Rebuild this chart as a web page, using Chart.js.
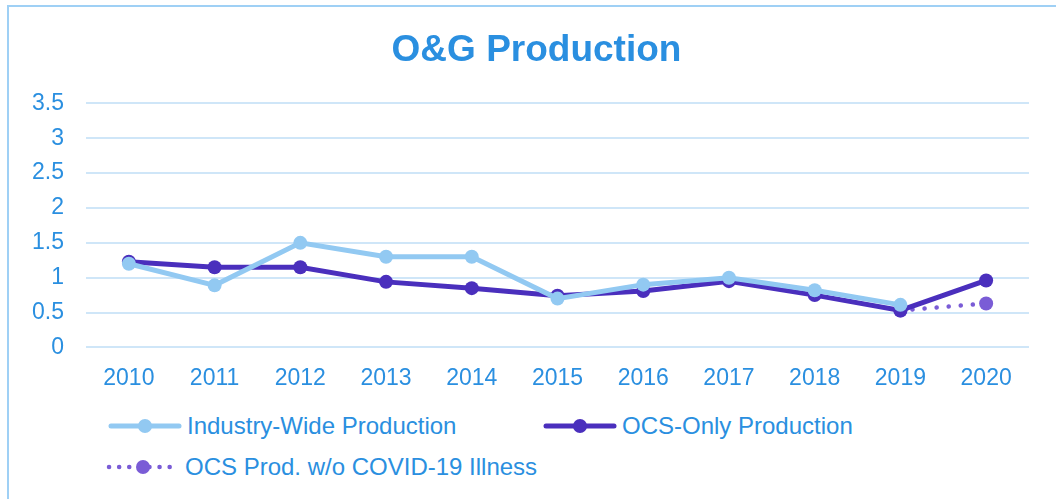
<!DOCTYPE html>
<html>
<head>
<meta charset="utf-8">
<script src="https://cdn.jsdelivr.net/npm/chart.js@4/dist/chart.umd.min.js"></script>
<style>
  html, body { margin: 0; padding: 0; background: #fff; overflow: hidden; }
  #frame {
    position: absolute; left: 7px; top: 5px; width: 1100px; height: 600px;
    border-left: 2px solid #9fd0f5; border-top: 2px solid #9fd0f5;
  }
  #wrap { position: absolute; left: 8px; top: 0; width: 1056px; height: 410px; }
  #legend { position: absolute; left: 0; top: 0; font-family: "Liberation Sans", Arial, sans-serif; font-size: 24px; color: #2a8fe0; }
  .item { position: absolute; display: flex; align-items: center; white-space: nowrap; }
  .item canvas { margin-right: 5px; }
</style>
</head>
<body>
<div id="frame"></div>
<div id="wrap"><canvas id="chart"></canvas></div>
<div id="legend"></div>
<script>
const years = ['2010', '2011', '2012', '2013', '2014', '2015', '2016', '2017', '2018', '2019', '2020'];
const industryWide = [1.2, 0.89, 1.5, 1.3, 1.3, 0.7, 0.9, 1.0, 0.82, 0.61, null];
const ocsOnly = [1.23, 1.15, 1.15, 0.94, 0.85, 0.74, 0.81, 0.95, 0.75, 0.53, 0.96];
const ocsNoCovid = [null, null, null, null, null, null, null, null, null, 0.53, 0.63];

const textBlue = '#2a8fe0';
const lightBlue = '#92c9f2';
const darkPurple = '#4a2fbd';
const midPurple = '#7a5cd6';
const fontFamily = '"Liberation Sans", Arial, sans-serif';

// the title sits centred on the whole frame, not on the plot
const shiftTitle = {
    id: 'shiftTitle',
    afterLayout: function (chart) {
        if (chart.titleBlock) {
            chart.titleBlock.left += 18;
            chart.titleBlock.right += 18;
        }
    }
};

const ctx = document.getElementById('chart').getContext('2d');
const chart = new Chart(ctx, {
    type: 'line',
    data: {
        labels: years,
        datasets: [{
            label: 'Industry-Wide Production',
            data: industryWide,
            borderColor: lightBlue,
            backgroundColor: lightBlue,
            borderWidth: 5,
            pointRadius: 7,
            pointBackgroundColor: lightBlue,
            pointBorderWidth: 0
        }, {
            label: 'OCS-Only Production',
            data: ocsOnly,
            borderColor: darkPurple,
            backgroundColor: darkPurple,
            borderWidth: 5,
            pointRadius: 7,
            pointBackgroundColor: darkPurple,
            pointBorderWidth: 0
        }, {
            label: 'OCS Prod. w/o COVID-19 Illness',
            data: ocsNoCovid,
            borderColor: midPurple,
            backgroundColor: midPurple,
            borderWidth: 4.5,
            borderDash: [0.1, 12],
            borderCapStyle: 'round',
            pointRadius: 7,
            pointBackgroundColor: midPurple,
            pointBorderWidth: 0
        }]
    },
    options: {
        responsive: true,
        maintainAspectRatio: false,
        animation: false,
        layout: { padding: { left: 0, right: 35, top: 0, bottom: 1 } },
        plugins: {
            legend: { display: false },
            tooltip: { enabled: false },
            title: {
                display: true,
                text: 'O&G Production',
                color: textBlue,
                font: { family: fontFamily, size: 37, weight: 'bold' },
                padding: { top: 29, bottom: 30 }
            }
        },
        scales: {
            x: {
                offset: true,
                grid: { display: false, drawTicks: false },
                border: { display: false },
                ticks: {
                    color: textBlue,
                    padding: 17,
                    font: { family: fontFamily, size: 23 }
                }
            },
            y: {
                min: 0,
                max: 3.5,
                grid: { color: '#cfe6f8', lineWidth: 2, drawTicks: false },
                border: { display: false },
                afterFit: function (scale) { scale.width = 78; },
                ticks: {
                    stepSize: 0.5,
                    color: textBlue,
                    padding: 22,
                    font: { family: fontFamily, size: 23 },
                    callback: function (value) { return String(value); }
                }
            }
        }
    },
    plugins: [shiftTitle]
});

// legend below the chart, built from the datasets
const legendPos = [[108, 426], [543, 426], [106, 467]];
const legendEl = document.getElementById('legend');
chart.data.datasets.forEach(function (ds, i) {
    const item = document.createElement('div');
    item.className = 'item';
    const sw = document.createElement('canvas');
    sw.width = 74; sw.height = 20;
    const c = sw.getContext('2d');
    c.strokeStyle = ds.borderColor;
    c.fillStyle = ds.borderColor;
    c.lineWidth = ds.borderWidth;
    c.lineCap = 'round';
    if (ds.borderDash) c.setLineDash([0.1, 10]);
    c.beginPath(); c.moveTo(3, 10); c.lineTo(71, 10); c.stroke();
    c.beginPath(); c.arc(37, 10, 7, 0, Math.PI * 2); c.fill();
    item.appendChild(sw);
    const t = document.createElement('span');
    t.textContent = ds.label;
    item.appendChild(t);
    item.style.left = legendPos[i][0] + 'px';
    item.style.top = (legendPos[i][1] - 14) + 'px';
    legendEl.appendChild(item);
});
</script>
</body>
</html>
